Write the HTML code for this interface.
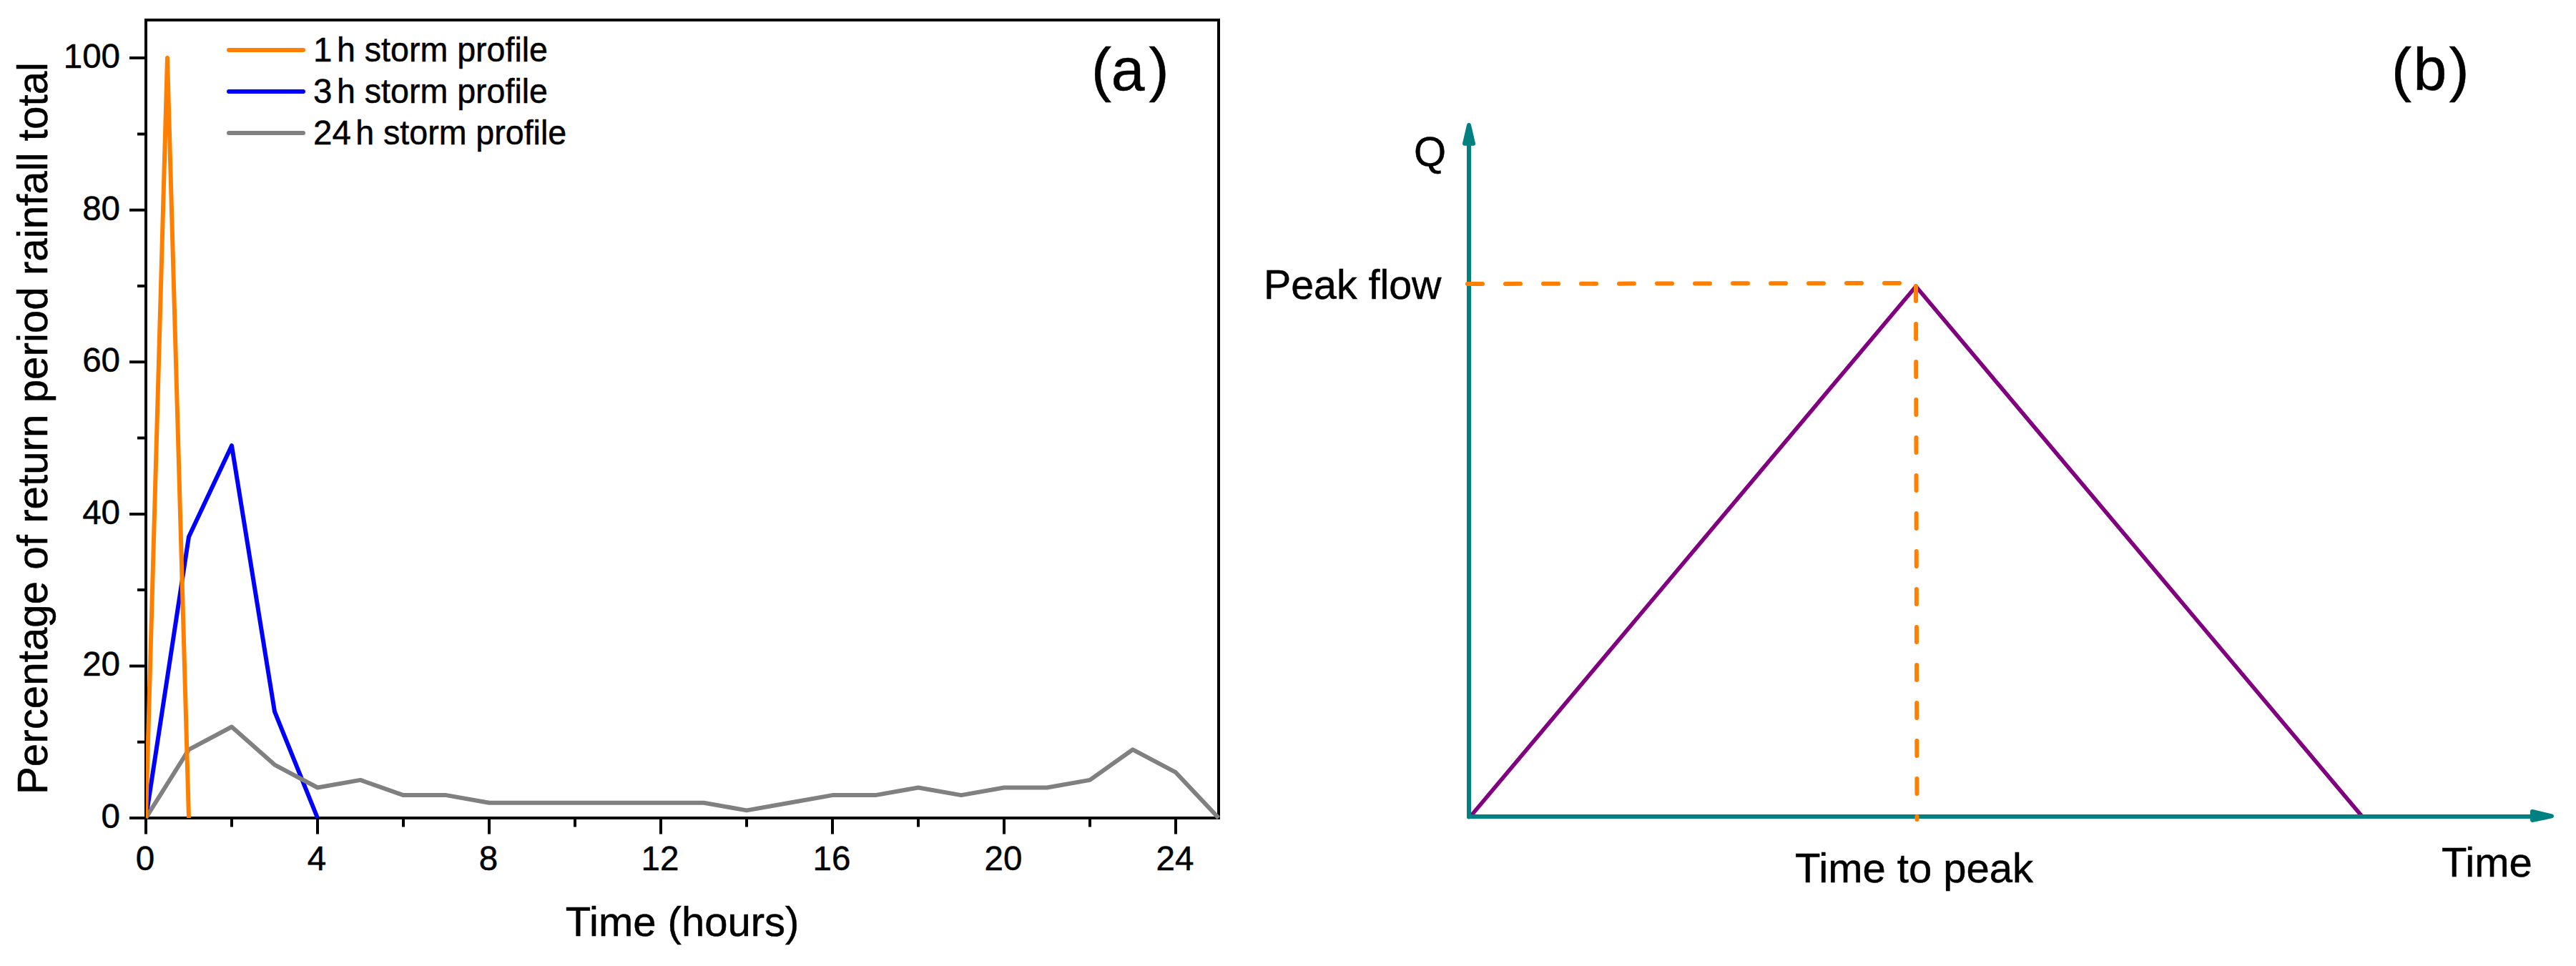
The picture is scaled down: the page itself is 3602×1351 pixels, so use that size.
<!DOCTYPE html>
<html lang="en"><head><meta charset="utf-8"><title>Storm profiles and triangular hydrograph</title>
<style>html,body{margin:0;padding:0;background:#fff}svg{display:block}text{font-family:"Liberation Sans",Arial,sans-serif;fill:#000;stroke:#000;stroke-width:.5px}</style>
</head><body>
<svg width="3602" height="1351" viewBox="0 0 3602 1351">
<rect width="3602" height="1351" fill="#fff"/>
<g id="panel-a">
<rect x="204" y="28" width="1500" height="1116" fill="none" stroke="#000" stroke-width="4"/>
<path d="M204,1144.0h-23M204,1037.7h-12M204,931.4h-23M204,825.1h-12M204,718.9h-23M204,612.6h-12M204,506.3h-23M204,400.0h-12M204,293.7h-23M204,187.4h-12M204,81.1h-23M204,1144v22.5M324,1144v12.5M444,1144v22.5M564,1144v12.5M684,1144v22.5M804,1144v12.5M924,1144v22.5M1044,1144v12.5M1164,1144v22.5M1284,1144v12.5M1404,1144v22.5M1524,1144v12.5M1644,1144v22.5" stroke="#000" stroke-width="4" fill="none"/>
<clipPath id="ca"><rect x="204" y="28" width="1502" height="1118"/></clipPath>
<g clip-path="url(#ca)" fill="none" stroke-width="6" stroke-linejoin="round" stroke-linecap="butt">
<polyline points="204.0,1144.0 264.0,750.7 324.0,623.2 384.0,995.2 444.0,1144.0" stroke="#0000ff"/>
<polyline points="204.0,1144.0 264.0,1048.3 324.0,1016.5 384.0,1069.6 444.0,1101.5 504.0,1090.9 564.0,1112.1 624.0,1112.1 684.0,1122.7 744.0,1122.7 804.0,1122.7 864.0,1122.7 924.0,1122.7 984.0,1122.7 1044.0,1133.4 1104.0,1122.7 1164.0,1112.1 1224.0,1112.1 1284.0,1101.5 1344.0,1112.1 1404.0,1101.5 1464.0,1101.5 1524.0,1090.9 1584.0,1048.3 1644.0,1080.2 1704.0,1144.0" stroke="#808080"/>
<polyline points="204.0,1144.0 234.0,81.1 264.0,1144.0" stroke="#ff8000"/>
</g>
<g font-size="47.5" text-anchor="end">
<text x="168" y="1158.0">0</text>
<text x="168" y="945.4">20</text>
<text x="168" y="732.9">40</text>
<text x="168" y="520.3">60</text>
<text x="168" y="307.7">80</text>
<text x="168" y="95.1">100</text>
</g>
<g font-size="47.5" text-anchor="middle">
<text x="203" y="1217">0</text>
<text x="443" y="1217">4</text>
<text x="683" y="1217">8</text>
<text x="923" y="1217">12</text>
<text x="1163" y="1217">16</text>
<text x="1403" y="1217">20</text>
<text x="1643" y="1217">24</text>
</g>
<text x="954" y="1309" font-size="58" text-anchor="middle">Time (hours)</text>
<text transform="translate(66,599) rotate(-90)" font-size="58.3" text-anchor="middle">Percentage of return period rainfall total</text>
<g stroke-width="6" stroke-linecap="round">
<line x1="320" x2="424" y1="70" y2="70" stroke="#ff8000"/>
<line x1="320" x2="424" y1="128" y2="128" stroke="#0000ff"/>
<line x1="320" x2="424" y1="186" y2="186" stroke="#808080"/>
</g>
<g font-size="47.5">
<text x="438" y="86">1</text><text x="471" y="86" textLength="295" lengthAdjust="spacingAndGlyphs">h storm profile</text>
<text x="438" y="144">3</text><text x="471" y="144" textLength="295" lengthAdjust="spacingAndGlyphs">h storm profile</text>
<text x="438" y="202">24</text><text x="497.2" y="202" textLength="295" lengthAdjust="spacingAndGlyphs">h storm profile</text>
</g>
<text x="1526.1 1553.7 1606.4" y="126" font-size="84">(a)</text>
</g>
<g id="panel-b">
<polyline points="2056,1142 2679,400.5 3303,1142" fill="none" stroke="#800080" stroke-width="5.6" stroke-linejoin="round"/>
<g stroke="#008080" stroke-width="6" stroke-linecap="round" fill="none">
<path d="M2054,200V1142.5"/><path d="M2054,1142H3540"/>
</g>
<path d="M2054,175L2060,200.8H2048ZM3568,1141.3L3541,1147V1135Z" fill="#008080" stroke="#008080" stroke-width="6" stroke-linejoin="round"/>
<g stroke="#ff8000" stroke-width="6" stroke-linecap="round" stroke-dasharray="21 32" fill="none">
<path d="M2052,397L2679,395.9"/>
<path d="M2679,400L2680.5,1146"/>
</g>
<g font-size="58">
<text x="1977" y="232">Q</text>
<text x="1767" y="417.5" textLength="248.4" lengthAdjust="spacingAndGlyphs">Peak flow</text>
<text x="2510" y="1234">Time to peak</text>
<text x="3414" y="1226">Time</text>
</g>
<text x="3343.9 3374.4 3424.5" y="126" font-size="84">(b)</text>
</g>
</svg></body></html>
